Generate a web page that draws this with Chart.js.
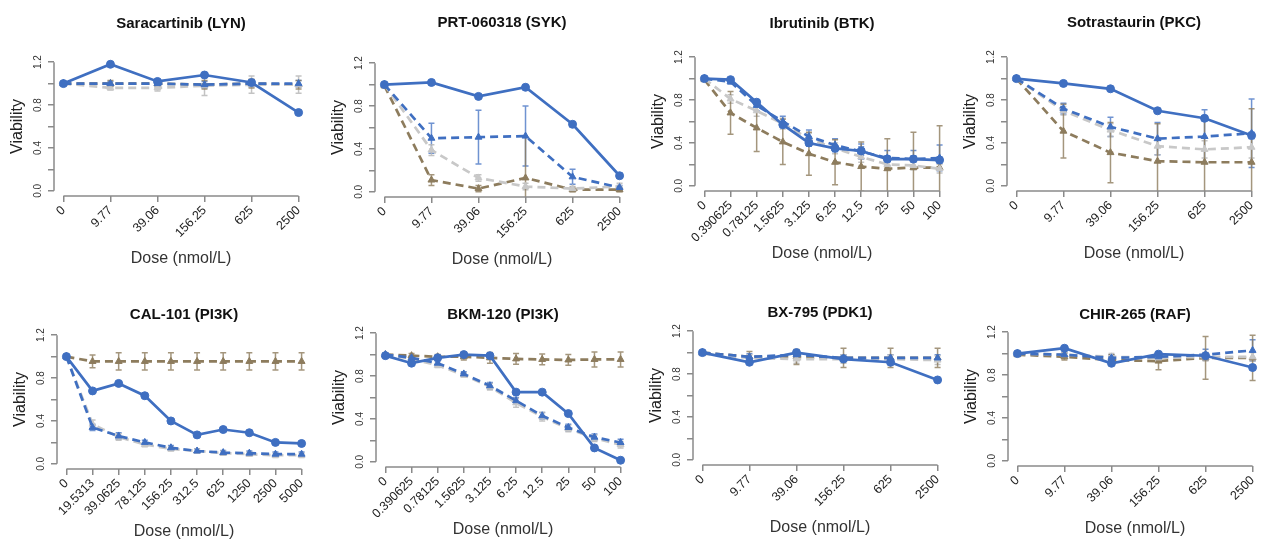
<!DOCTYPE html>
<html>
<head>
<meta charset="utf-8">
<script src="https://cdn.jsdelivr.net/npm/chart.js@4.4.1/dist/chart.umd.min.js"></script>
<style>
  html, body { margin: 0; padding: 0; background: #fff; width: 1267px; height: 541px; overflow: hidden; }
  canvas { position: absolute; }
</style>
</head>
<body>
<script>
// dose labels
const doses6 = ["0", "9.77", "39.06", "156.25", "625", "2500"];
const dosesLow = ["0", "0.390625", "0.78125", "1.5625", "3.125", "6.25", "12.5", "25", "50", "100"];
const dosesCal = ["0", "19.5313", "39.0625", "78.125", "156.25", "312.5", "625", "1250", "2500", "5000"];

// y ticks
const yTicks = [0, 0.2, 0.4, 0.6, 0.8, 1.0, 1.2];
const yTickLabels = ["0.0", "", "0.4", "", "0.8", "", "1.2"];

// order of rows: solid blue, dashed blue, dashed grey, dashed brown
const seriesNames = ["Series 1", "Series 2", "Series 3", "Series 4"];

const lynValues = [
    [1.0, 1.18, 1.02, 1.08, 1.01, 0.73],
    [1.0, 1.0, 1.0, 0.99, 1.0, 1.0],
    [1.0, 0.96, 0.96, 0.98, 0.99, 0.99],
    [1.0, 1.0, 1.0, 0.99, 1.0, 0.99]
];
const lynErrors = [
    [0, 0.01, 0.01, 0.01, 0.01, 0.01],
    [0.01, 0.02, 0.02, 0.03, 0.03, 0.03],
    [0.01, 0.02, 0.03, 0.09, 0.08, 0.08],
    [0.01, 0.03, 0.03, 0.04, 0.04, 0.04]
];

const sykValues = [
    [1.0, 1.02, 0.89, 0.975, 0.63, 0.15],
    [1.0, 0.50, 0.51, 0.52, 0.14, 0.04],
    [1.0, 0.39, 0.13, 0.05, 0.03, 0.05],
    [0.99, 0.11, 0.03, 0.13, 0.02, 0.02]
];
const sykErrors = [
    [0, 0.01, 0.01, 0.01, 0.02, 0.02],
    [0.01, 0.14, 0.25, 0.28, 0.07, 0.02],
    [0.01, 0.05, 0.03, 0.03, 0.02, 0.03],
    [0.02, 0.05, 0.03, 0.38, 0.02, 0.02]
];

const btkValues = [
    [1.0, 0.99, 0.78, 0.57, 0.40, 0.35, 0.325, 0.25, 0.25, 0.24],
    [1.0, 0.97, 0.75, 0.60, 0.46, 0.38, 0.32, 0.26, 0.25, 0.26],
    [1.0, 0.81, 0.70, 0.58, 0.44, 0.35, 0.27, 0.20, 0.19, 0.16],
    [0.99, 0.68, 0.54, 0.41, 0.30, 0.22, 0.18, 0.16, 0.17, 0.17]
];
const btkErrors = [
    [0.01, 0.01, 0.02, 0.02, 0.03, 0.03, 0.04, 0.03, 0.03, 0.03],
    [0.01, 0.02, 0.05, 0.05, 0.06, 0.06, 0.07, 0.07, 0.08, 0.12],
    [0.01, 0.04, 0.05, 0.05, 0.05, 0.05, 0.05, 0.04, 0.04, 0.04],
    [0.01, 0.20, 0.22, 0.21, 0.20, 0.21, 0.23, 0.28, 0.33, 0.39]
];

const pkcValues = [
    [1.0, 0.955, 0.905, 0.70, 0.63, 0.47],
    [1.0, 0.72, 0.55, 0.44, 0.46, 0.49],
    [1.0, 0.70, 0.52, 0.37, 0.34, 0.36],
    [1.0, 0.51, 0.31, 0.23, 0.22, 0.22]
];
const pkcErrors = [
    [0, 0.01, 0.01, 0.02, 0.02, 0.03],
    [0.01, 0.05, 0.09, 0.15, 0.25, 0.32],
    [0.01, 0.04, 0.06, 0.08, 0.08, 0.10],
    [0.01, 0.25, 0.28, 0.35, 0.43, 0.50]
];

const calValues = [
    [1.0, 0.68, 0.75, 0.635, 0.40, 0.27, 0.32, 0.29, 0.20, 0.19],
    [1.0, 0.34, 0.26, 0.20, 0.15, 0.12, 0.105, 0.10, 0.09, 0.09],
    [1.0, 0.37, 0.25, 0.18, 0.14, 0.12, 0.10, 0.09, 0.08, 0.08],
    [1.0, 0.955, 0.955, 0.955, 0.955, 0.955, 0.955, 0.955, 0.955, 0.955]
];
const calErrors = [
    [0, 0.01, 0.01, 0.01, 0.01, 0.01, 0.01, 0.01, 0.01, 0.01],
    [0.01, 0.03, 0.03, 0.02, 0.02, 0.02, 0.02, 0.02, 0.02, 0.02],
    [0.01, 0.04, 0.03, 0.02, 0.02, 0.02, 0.02, 0.02, 0.02, 0.02],
    [0.01, 0.06, 0.08, 0.08, 0.08, 0.08, 0.08, 0.08, 0.08, 0.08]
];

const bkmValues = [
    [0.99, 0.92, 0.97, 1.0, 0.99, 0.65, 0.65, 0.45, 0.13, 0.015],
    [1.0, 0.97, 0.92, 0.82, 0.71, 0.57, 0.43, 0.32, 0.23, 0.18],
    [1.0, 0.96, 0.90, 0.81, 0.70, 0.55, 0.42, 0.31, 0.22, 0.16],
    [1.0, 0.99, 0.98, 0.98, 0.97, 0.96, 0.955, 0.95, 0.955, 0.955]
];
const bkmErrors = [
    [0, 0.01, 0.01, 0.01, 0.01, 0.01, 0.01, 0.01, 0.01, 0.01],
    [0.01, 0.02, 0.02, 0.02, 0.03, 0.03, 0.03, 0.03, 0.03, 0.03],
    [0.01, 0.02, 0.02, 0.02, 0.03, 0.04, 0.04, 0.03, 0.03, 0.03],
    [0.01, 0.02, 0.02, 0.03, 0.05, 0.05, 0.05, 0.05, 0.07, 0.07]
];

const pdkValues = [
    [1.0, 0.91, 1.0, 0.94, 0.91, 0.745],
    [1.0, 0.96, 0.98, 0.95, 0.95, 0.95],
    [0.99, 0.95, 0.94, 0.94, 0.94, 0.93],
    [1.0, 0.96, 0.96, 0.95, 0.95, 0.95]
];
const pdkErrors = [
    [0, 0.01, 0.01, 0.01, 0.01, 0.01],
    [0.01, 0.03, 0.03, 0.03, 0.03, 0.03],
    [0.01, 0.03, 0.04, 0.04, 0.04, 0.04],
    [0.01, 0.05, 0.07, 0.09, 0.09, 0.09]
];

const rafValues = [
    [1.0, 1.05, 0.91, 0.995, 0.98, 0.87],
    [1.0, 0.99, 0.96, 0.97, 0.99, 1.03],
    [1.0, 0.99, 0.97, 0.96, 0.97, 0.97],
    [0.99, 0.97, 0.94, 0.93, 0.96, 0.96]
];
const rafErrors = [
    [0, 0.01, 0.01, 0.01, 0.01, 0.01],
    [0.01, 0.02, 0.03, 0.03, 0.05, 0.10],
    [0.01, 0.02, 0.03, 0.03, 0.04, 0.04],
    [0.01, 0.03, 0.05, 0.08, 0.20, 0.21]
];

document.addEventListener("DOMContentLoaded", function () {

    const font = "'Liberation Sans', Arial, Helvetica, sans-serif";

    const colors = {
        blue: "#3f6fc1",
        blueErr: "rgba(63,111,193,0.75)",
        grey: "#c8c8c8",
        greyErr: "rgba(185,185,185,0.85)",
        brown: "#8d7c5d",
        brownErr: "rgba(141,124,93,0.8)",
        axis: "#8a8a8a"
    };

    // how each of the 4 series looks
    const looks = [
        { color: colors.blue, err: colors.blueErr, dash: [], point: "circle", r: 4 },
        { color: colors.blue, err: colors.blueErr, dash: [8, 5], point: "triangle", r: 4 },
        { color: colors.grey, err: colors.greyErr, dash: [8, 5], point: "triangle", r: 4 },
        { color: colors.brown, err: colors.brownErr, dash: [8, 5], point: "triangle", r: 4 }
    ];

    // R style axis lines, only from first to last tick
    const axisLines = {
        id: "axisLines",
        afterDraw(chart) {
            const { ctx, chartArea } = chart;
            const x = chart.scales.x, y = chart.scales.y;
            ctx.save();
            ctx.strokeStyle = colors.axis;
            ctx.lineWidth = 1.5;
            ctx.beginPath();
            ctx.moveTo(chartArea.left, y.getPixelForValue(yTicks[0]));
            ctx.lineTo(chartArea.left, y.getPixelForValue(yTicks[yTicks.length - 1]));
            ctx.moveTo(x.getPixelForValue(x.ticks[0].value), chartArea.bottom);
            ctx.lineTo(x.getPixelForValue(x.ticks[x.ticks.length - 1].value), chartArea.bottom);
            ctx.stroke();
            ctx.restore();
        }
    };

    // error bars with small caps
    const errorBars = {
        id: "errorBars",
        beforeDatasetsDraw(chart) {
            const { ctx, chartArea } = chart;
            const y = chart.scales.y;
            ctx.save();
            ctx.beginPath();
            ctx.rect(chartArea.left, chartArea.top, chartArea.width, chartArea.height);
            ctx.clip();
            ctx.lineWidth = 1.5;
            chart.data.datasets.forEach(function (ds, k) {
                const meta = chart.getDatasetMeta(k);
                ctx.strokeStyle = ds.errColor;
                ds.errors.forEach(function (e, i) {
                    if (!e) return;
                    const px = meta.data[i].x;
                    const v = ds.data[i].y;
                    const top = y.getPixelForValue(v + e);
                    const bot = y.getPixelForValue(v - e);
                    ctx.beginPath();
                    ctx.moveTo(px, top); ctx.lineTo(px, bot);
                    ctx.moveTo(px - 3, top); ctx.lineTo(px + 3, top);
                    ctx.moveTo(px - 3, bot); ctx.lineTo(px + 3, bot);
                    ctx.stroke();
                });
            });
            ctx.restore();
        }
    };

    function panel(frame, title, doses, values, errors) {
        const [left, top, gap] = frame;
        const titleH = 4 + 18 + gap;
        const canvas = document.createElement("canvas");
        canvas.width = 314;
        canvas.height = titleH + 139 + 72 + 4;
        canvas.style.left = (left - 50) + "px";
        canvas.style.top = (top - titleH) + "px";
        document.body.appendChild(canvas);

        const n = doses.length;
        new Chart(canvas, {
            type: "line",
            data: {
                datasets: values.map(function (vals, k) {
                    const lk = looks[k];
                    return {
                        label: seriesNames[k],
                        data: vals.map((v, i) => ({ x: i, y: v })),
                        errors: errors[k],
                        errColor: lk.err,
                        borderColor: lk.color,
                        backgroundColor: lk.color,
                        borderWidth: 2.7,
                        borderDash: lk.dash,
                        pointStyle: lk.point,
                        pointRadius: lk.r,
                        pointBorderWidth: 1,
                        tension: 0
                    };
                })
            },
            options: {
                responsive: false,
                animation: false,
                devicePixelRatio: 1,
                events: [],
                layout: { padding: { left: 0, right: 10, top: 0, bottom: 4 } },
                plugins: {
                    legend: { display: false },
                    tooltip: { enabled: false },
                    title: {
                        display: true,
                        text: title,
                        fullSize: false,
                        color: "#111",
                        font: { family: font, size: 15, weight: "bold" },
                        padding: { top: 4, bottom: gap }
                    }
                },
                scales: {
                    x: {
                        type: "linear",
                        min: -0.04 * (n - 1),
                        max: 1.04 * (n - 1),
                        afterBuildTicks: s => { s.ticks = doses.map((d, i) => ({ value: i })); },
                        afterFit: s => { s.height = 72; },
                        border: { display: false },
                        grid: { drawOnChartArea: false, tickLength: 6, color: colors.axis, lineWidth: 1.5 },
                        ticks: {
                            autoSkip: false,
                            minRotation: 45,
                            maxRotation: 45,
                            padding: 1,
                            color: "#222",
                            font: { family: font, size: 12.5 },
                            callback: v => doses[v]
                        },
                        title: {
                            display: true,
                            text: "Dose (nmol/L)",
                            color: "#333",
                            font: { family: font, size: 16 },
                            padding: { top: 0, bottom: 0 }
                        }
                    },
                    y: {
                        min: -0.048,
                        max: 1.248,
                        afterBuildTicks: s => { s.ticks = yTicks.map(v => ({ value: v })); },
                        afterFit: s => { s.width = 50; },
                        border: { display: false },
                        grid: { drawOnChartArea: false, tickLength: 6, color: colors.axis, lineWidth: 1.5 },
                        ticks: {
                            minRotation: 90,
                            maxRotation: 90,
                            crossAlign: "center",
                            padding: 3,
                            color: "#333",
                            font: { family: font, size: 10 },
                            callback: (v, i) => yTickLabels[i]
                        },
                        title: {
                            display: true,
                            text: "Viability",
                            color: "#222",
                            font: { family: font, size: 16 },
                            padding: { top: 4, bottom: 0 }
                        }
                    }
                }
            },
            plugins: [errorBars, axisLines]
        });
    }

    // [chart area left, chart area top, gap under title]
    panel([54, 57, 24], "Saracartinib (LYN)", doses6, lynValues, lynErrors);
    panel([375, 58, 26], "PRT-060318 (SYK)", doses6, sykValues, sykErrors);
    panel([695, 52, 19], "Ibrutinib (BTK)", dosesLow, btkValues, btkErrors);
    panel([1007, 52, 20], "Sotrastaurin (PKC)", doses6, pkcValues, pkcErrors);
    panel([57, 330, 6], "CAL-101 (PI3K)", dosesCal, calValues, calErrors);
    panel([376, 328, 4], "BKM-120 (PI3K)", dosesLow, bkmValues, bkmErrors);
    panel([693, 326, 4], "BX-795 (PDK1)", doses6, pdkValues, pdkErrors);
    panel([1008, 327, 3], "CHIR-265 (RAF)", doses6, rafValues, rafErrors);
});
</script>
</body>
</html>
